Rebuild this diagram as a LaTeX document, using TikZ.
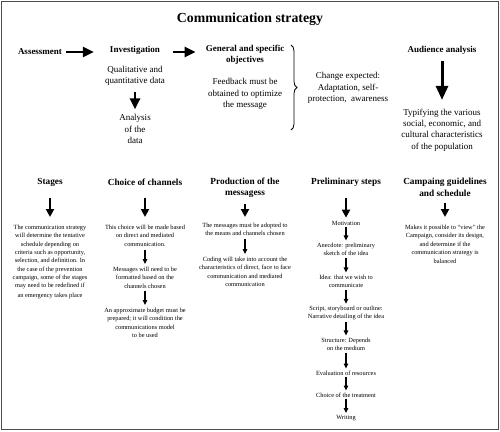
\documentclass[tikz,border=0pt]{standalone}
\usepackage{fontspec}
\setmainfont{Liberation Serif}
\usetikzlibrary{arrows.meta,decorations.pathreplacing}
\begin{document}
\begin{tikzpicture}[x=1pt,y=-1pt,
  ttl/.style={font=\bfseries\fontsize{13.8}{16}\selectfont, inner sep=0pt},
  hd/.style={font=\bfseries\fontsize{9}{10.5}\selectfont, align=center, inner sep=1pt},
  hdb/.style={font=\bfseries\fontsize{9.3}{11.5}\selectfont, align=center, inner sep=1pt},
  txt/.style={font=\fontsize{9}{11.2}\selectfont, align=center, inner sep=1pt},
  sm/.style={font=\fontsize{6.35}{8.3}\selectfont, align=center, inner sep=1pt},
  bigarr/.style={line width=2.6pt, -{Triangle[length=11pt,width=10pt]}},
  medarr/.style={line width=2pt, -{Triangle[length=8pt,width=8pt]}},
  smarr/.style={line width=1.2pt, -{Triangle[length=5pt,width=4.5pt]}}]
\useasboundingbox (0,0) rectangle (500,431);
\draw[black!70, line width=1.5pt] (1.5,1.5) rectangle (498.5,429.5);
\node[ttl] (title) at (250,19) {Communication strategy};
% row 1
\node[hd] (assess) at (40,52) {Assessment};
\node[hd] (invest) at (135,50) {Investigation};
\node[hd] (general) at (245,55) {General and specific\\objectives};
\node[txt] (feed) at (245,94) {Feedback must be\\obtained to optimize\\the message};
\node[txt] (qual) at (135,76) {Qualitative and\\quantitative data};
\node[txt] (anal) at (135,129) {Analysis\\of the\\data};
\node[txt] (change) at (348,88) {Change expected:\\Adaptation, self-\\protection,\ \ awareness};
\node[hd] (aud) at (442,50) {Audience analysis};
\node[txt] (typ) at (442,130) {Typifying the various\\social, economic, and\\cultural characteristics\\of the population};
\draw[bigarr, shorten <=3pt, shorten >=15pt] (assess) -- (assess -| invest.west);
\draw[bigarr, shorten <=12pt, shorten >=9pt] (invest.east |- assess) -- (assess -| general.west);
\draw[bigarr, shorten <=5pt, shorten >=4pt] (qual) -- (anal);
\draw[line width=3pt, -{Triangle[length=14pt,width=12pt]}, shorten <=6pt, shorten >=8pt] (aud) -- (typ);
\coordinate (bt) at (291,45);
\coordinate (bb) at (291,130);
\draw[line width=0.8pt, decorate, decoration={brace, amplitude=6pt}] (bt) -- (bb);
% row 2 headers
\node[hdb] (stages) at (50,182) {Stages};
\node[hdb] (chan) at (145,182) {Choice of channels};
\node[hdb] (prod) at (245,187.5) {Production of the\\messagess};
\node[hdb] (prel) at (346,182) {Preliminary steps};
\node[hdb] (camp) at (445,187.5) {Campaing guidelines\\and schedule};
% stages
\node[sm, anchor=north] (st1) at (50,224) {The communication strategy\\will determine the tentative\\schedule depending on\\criteria such as opportunity,\\selection, and definition. In\\the case of the prevention\\campaign, some of the stages\\may need to be redefined if\\[1pt]an emergency takes place};
% channels
\node[sm, anchor=north] (ch1) at (145,224) {This choice will be made based\\on direct and mediated\\communication.};
\node[sm, anchor=north] (ch2) at (145,266) {Messages will need to be\\formatted based on the\\channels chosen};
\node[sm, anchor=north] (ch3) at (145,307) {An approximate budget must be\\prepared; it will condition the\\communications model\\to be used};
% production
\node[sm, anchor=north] (p1) at (245,222) {The messages must be adopted to\\the means and channels chosen};
\node[sm, anchor=north] (p2) at (245,256) {Coding will take into account the\\characteristics of direct, face to face\\communication and mediated\\communication};
% preliminary
\node[sm] (m1) at (346,223) {Motivation};
\node[sm] (m2) at (346,249) {Anecdote: preliminary\\sketch of the idea};
\node[sm] (m3) at (346,281) {Idea: that we wish to\\communicate};
\node[sm] (m4) at (346,313) {Script, storyboard or outline:\\Narrative detailing of the idea};
\node[sm] (m5) at (346,344) {Structure: Depends\\on the medium};
\node[sm] (m6) at (346,373) {Evaluation of resources};
\node[sm] (m7) at (346,395) {Choice of the treatment};
\node[sm] (m8) at (346,418) {Writing};
% campaign
\node[sm, anchor=north] (c1) at (445,224) {Makes it possible to ``view'' the\\Campaign, consider its design,\\and determine if the\\communication strategy is\\[1pt]balanced};
% header arrows
\draw[medarr, shorten <=11pt, shorten >=7pt] (stages) -- (st1.north);
\draw[medarr, shorten <=11pt, shorten >=7pt] (chan) -- (ch1.north);
\draw[medarr, shorten <=5pt, shorten >=5pt] (prod) -- (p1.north);
\draw[medarr, shorten <=11pt, shorten >=2pt] (prel) -- (m1);
\draw[medarr, shorten <=5pt, shorten >=7pt] (camp) -- (c1.north);
% small arrows
\draw[smarr, shorten <=2pt, shorten >=2pt] (ch1) -- (ch2);
\draw[smarr, shorten <=2pt, shorten >=2pt] (ch2) -- (ch3);
\draw[smarr, shorten <=2pt, shorten >=2pt] (p1) -- (p2);
\draw[smarr, shorten <=1pt, shorten >=1pt] (m1) -- (m2);
\draw[smarr, shorten <=1pt, shorten >=1pt] (m2) -- (m3);
\draw[smarr, shorten <=1pt, shorten >=1pt] (m3) -- (m4);
\draw[smarr, shorten <=1pt, shorten >=1pt] (m4) -- (m5);
\draw[smarr, shorten <=1pt, shorten >=1pt] (m5) -- (m6);
\draw[smarr, shorten <=1pt, shorten >=1pt] (m6) -- (m7);
\draw[smarr, shorten <=1pt, shorten >=1pt] (m7) -- (m8);
\end{tikzpicture}
\end{document}
